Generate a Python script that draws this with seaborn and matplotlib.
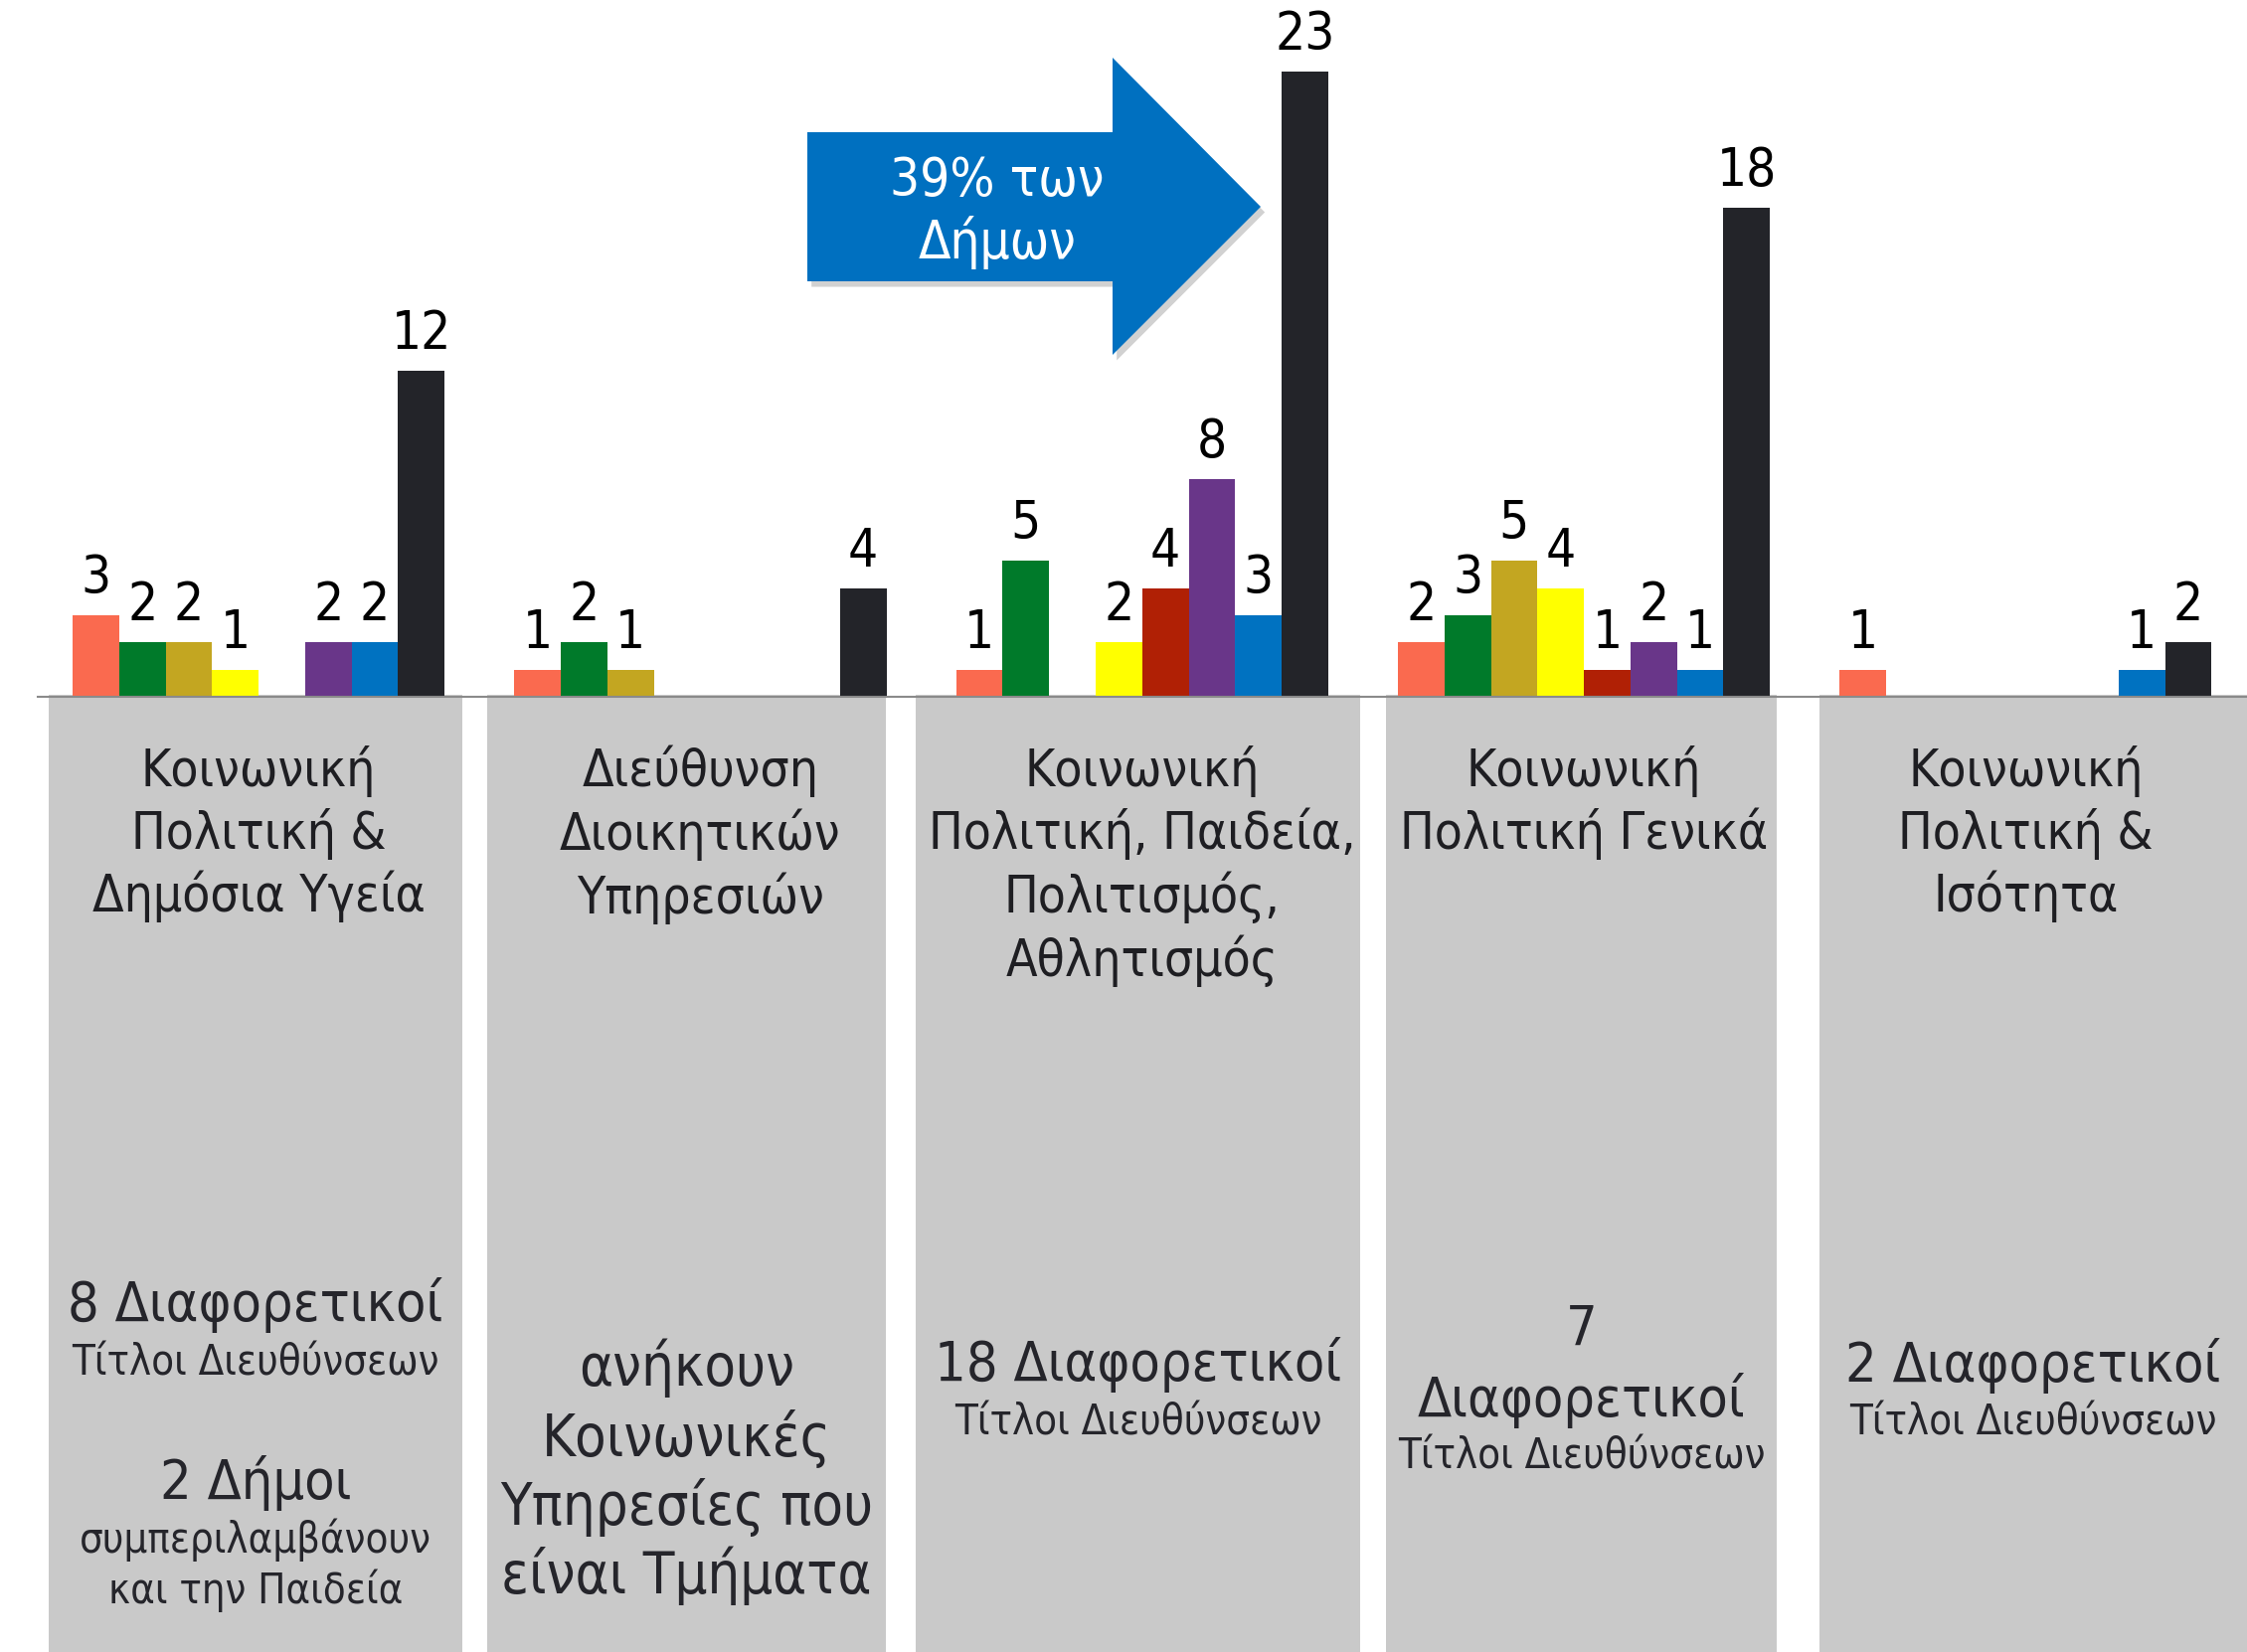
import matplotlib
matplotlib.use('Agg')
import matplotlib.pyplot as plt
import matplotlib.patheffects as pe
from matplotlib.patches import Polygon, Rectangle
from matplotlib import font_manager
import seaborn as sns
import numpy as np
import pandas as pd

## chart data
categories = ['Κοινωνική\nΠολιτική &\nΔημόσια Υγεία',
              'Διεύθυνση\nΔιοικητικών\nΥπηρεσιών',
              'Κοινωνική\nΠολιτική, Παιδεία,\nΠολιτισμός,\nΑθλητισμός',
              'Κοινωνική\nΠολιτική Γενικά',
              'Κοινωνική\nΠολιτική &\nΙσότητα']
series_names = ['Σειρά 1', 'Σειρά 2', 'Σειρά 3', 'Σειρά 4',
                'Σειρά 5', 'Σειρά 6', 'Σειρά 7', 'Σειρά 8']
s1 = [3, 1, 1, 2, 1]
s2 = [2, 2, 5, 3, 0]
s3 = [2, 1, 0, 5, 0]
s4 = [1, 0, 2, 4, 0]
s5 = [0, 0, 4, 1, 0]
s6 = [2, 0, 8, 2, 0]
s7 = [2, 0, 3, 1, 1]
s8 = [12, 4, 23, 18, 2]
colors = ['#FA6A4F', '#007A2A', '#C3A621', '#FFFF00',
          '#B02005', '#693689', '#0072C1', '#232429']

arrow_text = ['39% των', 'Δήμων']
box_notes = [
    [('8 Διαφορετικοί', 'big', 1329), ('Τίτλοι Διευθύνσεων', 'small', 1383),
     ('2 Δήμοι', 'big', 1508), ('συμπεριλαμβάνουν', 'small', 1562),
     ('και την Παιδεία', 'small', 1613)],
    [('ανήκουν', 'mid', 1394), ('Κοινωνικές', 'mid', 1465),
     ('Υπηρεσίες που', 'mid', 1534), ('είναι Τμήματα', 'mid', 1603)],
    [('18 Διαφορετικοί', 'big', 1389), ('Τίτλοι Διευθύνσεων', 'small', 1443)],
    [('7', 'big', 1353), ('Διαφορετικοί', 'big', 1425),
     ('Τίτλοι Διευθύνσεων', 'small', 1478)],
    [('2 Διαφορετικοί', 'big', 1390), ('Τίτλοι Διευθύνσεων', 'small', 1443)],
]

df = pd.DataFrame({
    'category': np.tile(np.arange(len(categories)), len(series_names)),
    'series': np.repeat(series_names, len(categories)),
    'value': s1 + s2 + s3 + s4 + s5 + s6 + s7 + s8,
})

## look
sns.set_style('white')
fams = [(f.name, f.stretch) for f in font_manager.fontManager.ttflist]
if ('DejaVu Sans', 'condensed') in fams:
    plt.rcParams['font.family'] = ['DejaVu Sans']
    plt.rcParams['font.stretch'] = 'condensed'
else:
    plt.rcParams['font.family'] = ['Liberation Sans', 'DejaVu Sans']

W, H = 2260, 1662
fig = plt.figure(figsize=(W / 100, H / 100), dpi=100)
base = 701
ax = fig.add_axes([38 / W, 1 - base / H, 2221.5 / W, base / H])
ax.set_facecolor('none')

sns.barplot(data=df, x='category', y='value', hue='series',
            hue_order=series_names, palette=colors, saturation=1,
            width=0.842, linewidth=0, legend=False, ax=ax)

for c in ax.containers:
    labels = [str(int(v)) if v > 0 else '' for v in c.datavalues]
    ax.bar_label(c, labels=labels, padding=8, fontsize=38, color='black')

ax.set_xlim(-0.5, len(categories) - 0.5)
ax.set_ylim(0, base / 27.33)
ax.set_xlabel('')
ax.set_ylabel('')
ax.set_yticks([])
for s in ['top', 'left', 'right']:
    ax.spines[s].set_visible(False)
ax.spines['bottom'].set_color('#8A8A8A')
ax.spines['bottom'].set_linewidth(1.5)

ax.set_xticks(np.arange(len(categories) + 1) - 0.5, labels=[])
ax.set_xticks(np.arange(len(categories)), labels=categories, minor=True)
ax.tick_params(axis='x', which='major', direction='out', length=12,
               width=1.2, color='#8A8A8A')
ax.tick_params(axis='x', which='minor', length=0, pad=35,
               labelsize=37, labelcolor='#1E1E22')
for t in ax.get_xticklabels(minor=True):
    t.set_linespacing(1.27)

## gray label boxes below the axis
box_edges = [(49, 465), (490, 891), (921, 1368), (1394, 1787), (1830, 2260)]
for x0, x1 in box_edges:
    fig.add_artist(Rectangle((x0 / W, 0), (x1 - x0) / W, 1 - 699 / H,
                             transform=fig.transFigure, color='#C9C9C9',
                             lw=0, zorder=-1))

sizes = {'big': 40, 'mid': 41.5, 'small': 30}
for (x0, x1), notes in zip(box_edges, box_notes):
    xc = (x0 + x1) / 2 / W
    for txt, kind, y in notes:
        fig.text(xc, 1 - y / H, txt, ha='center', va='baseline',
                 fontsize=sizes[kind], color='#25252B')

## arrow call-out
arrow_px = [(812, 133), (1119, 133), (1119, 58), (1268, 208),
            (1119, 357), (1119, 283), (812, 283)]
arrow = Polygon([(x / W, 1 - y / H) for x, y in arrow_px], closed=True,
                transform=fig.transFigure, facecolor='#0070C0', lw=0,
                zorder=3)
arrow.set_path_effects([pe.SimplePatchShadow(offset=(3, -4), shadow_rgbFace='black',
                                             alpha=0.18), pe.Normal()])
fig.add_artist(arrow)
for txt, y in zip(arrow_text, [197, 260]):
    fig.text(1003 / W, 1 - y / H, txt, ha='center', va='baseline',
             fontsize=38, color='white', zorder=4)

fig.savefig('out.png', dpi=100)
